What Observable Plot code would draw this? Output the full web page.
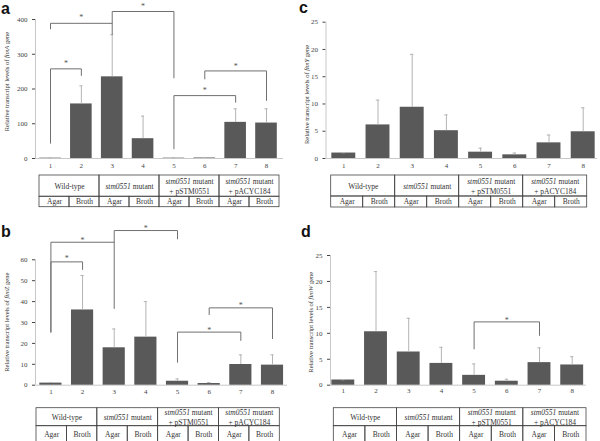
<!DOCTYPE html>
<html><head><meta charset="utf-8">
<script src="https://cdn.jsdelivr.net/npm/d3@7"></script>
<script src="https://cdn.jsdelivr.net/npm/@observablehq/plot@0.6"></script>
<style>
body{margin:0;background:#fff;}
#fig{position:relative;width:600px;height:441px;overflow:hidden;background:#fff;}
.pane{position:absolute;}
.letter{position:absolute;font-family:"Liberation Sans",Arial,sans-serif;font-weight:bold;font-size:16px;line-height:1;color:#111;}
</style></head><body><div id="fig"></div>
<script>
// ---- data ----
const conditions = ["1","2","3","4","5","6","7","8"];
const groups = ["Wild-type", "stm0551 mutant", "stm0551 mutant\n+ pSTM0551", "stm0551 mutant\n+ pACYC184"];
const media = ["Agar", "Broth"];

const fimA_mean = [1, 157, 235, 57, 1, 1.5, 104, 102];
const fimA_sd   = [0.5, 52, 121, 65, 0.5, 1.5, 39, 41];
const fimA_ticks = [0, 100, 200, 300, 400];
const fimA_brackets = [
  {from: 1, to: 2, top: 258, leftEnd: 44,  rightEnd: 239, star: 279},
  {from: 1, to: 3, top: 389, leftEnd: 373, rightEnd: 357, star: 411},
  {from: 3, to: 5, top: 423, leftEnd: 389, rightEnd: 232, star: 443},
  {from: 5, to: 7, top: 181, leftEnd: 28,  rightEnd: 162, star: 202},
  {from: 6, to: 8, top: 252, leftEnd: 229, rightEnd: 167, star: 272}
];

const fimZ_mean = [1.0, 36.0, 17.9, 23.0, 1.9, 0.8, 9.9, 9.6];
const fimZ_sd   = [0.3, 16.5, 9.0, 17.0, 1.1, 0.5, 4.6, 4.9];
const fimZ_ticks = [0, 10, 20, 30, 40, 50, 60];
const fimZ_brackets = [
  {from: 1, to: 2, top: 59.0, leftEnd: 25.4, rightEnd: 55.4, star: 61.6},
  {from: 1, to: 3, top: 68.4, leftEnd: 25.4, rightEnd: 36.7, star: 70.3},
  {from: 3, to: 5, top: 74.0, leftEnd: 68.4, rightEnd: 70.0, star: 75.9},
  {from: 5, to: 7, top: 25.4, leftEnd: 11.0, rightEnd: 21.4, star: 27.1},
  {from: 6, to: 8, top: 37.0, leftEnd: 33.8, rightEnd: 22.3, star: 39.0}
];

const fimY_mean = [1.0, 6.16, 9.4, 5.1, 1.16, 0.67, 2.87, 4.9];
const fimY_sd   = [0.05, 4.55, 9.7, 2.9, 0.74, 0.33, 1.43, 4.4];
const fimY_ticks = [0, 5, 10, 15, 20, 25];
const fimY_brackets = [];

const fimW_mean = [1.0, 10.3, 6.4, 4.2, 1.9, 0.77, 4.35, 3.9];
const fimW_sd   = [0.05, 11.6, 6.5, 3.1, 2.2, 0.38, 2.85, 1.6];
const fimW_ticks = [0, 5, 10, 15, 20, 25];
const fimW_brackets = [
  {from: 5, to: 7, top: 12.2, leftEnd: 7.0, rightEnd: 9.6, star: 12.8}
];

// ---- layout ----
const panels = [
  {letter: "a", gene: "fimA", mean: fimA_mean, sd: fimA_sd, ticks: fimA_ticks, brackets: fimA_brackets, yMax: 400,
   left: 0, top: 0, width: 300, height: 172, axisX: 35, c1: 50, c8: 266, baseEnd: 283, zeroY: 158, maxY: 19,
   labelX: 6, labelY: 81, xPad: 5, letterX: 1, letterY: 0.5,
   table: {x0: 39, x1: 279, y0: 175, y1: 206.7, split: 0.67, top: 168, h: 45}},
  {letter: "b", gene: "fimZ", mean: fimZ_mean, sd: fimZ_sd, ticks: fimZ_ticks, brackets: fimZ_brackets, yMax: 60,
   left: 0, top: 220, width: 300, height: 180, axisX: 35, c1: 50.4, c8: 272, baseEnd: 287, zeroY: 384.7, maxY: 259.3,
   labelX: 6.5, labelY: 321.7, xPad: 3.5, letterX: 1, letterY: 223.5,
   table: {x0: 36, x1: 279.3, y0: 407.7, y1: 443, split: 0.51, top: 400, h: 45}},
  {letter: "c", gene: "fimY", mean: fimY_mean, sd: fimY_sd, ticks: fimY_ticks, brackets: fimY_brackets, yMax: 25,
   left: 300, top: 0, width: 300, height: 172, axisX: 325.5, c1: 343.3, c8: 582.7, baseEnd: 597, zeroY: 158, maxY: 21.7,
   labelX: 306.5, labelY: 94, xPad: 5, letterX: 299, letterY: 0,
   table: {x0: 330.7, x1: 586.7, y0: 175, y1: 207, split: 0.656, top: 168, h: 45}},
  {letter: "d", gene: "fimW", mean: fimW_mean, sd: fimW_sd, ticks: fimW_ticks, brackets: fimW_brackets, yMax: 25,
   left: 300, top: 220, width: 300, height: 180, axisX: 330, c1: 342.8, c8: 571.7, baseEnd: 586, zeroY: 384.7, maxY: 255,
   labelX: 310, labelY: 321.7, xPad: 3, letterX: 301, letterY: 223.5,
   table: {x0: 333.3, x1: 586, y0: 407.7, y1: 443, split: 0.51, top: 400, h: 45}}
];

const SERIF = '"Liberation Serif","Times New Roman","DejaVu Serif",serif';
const fig = document.getElementById("fig");

function italicize(svg, words) {
  const re = new RegExp("(" + words.join("|") + ")");
  const walker = document.createTreeWalker(svg, NodeFilter.SHOW_TEXT);
  const nodes = [];
  while (walker.nextNode()) nodes.push(walker.currentNode);
  for (const n of nodes) {
    if (!re.test(n.nodeValue)) continue;
    const parts = n.nodeValue.split(re);
    const frag = document.createDocumentFragment();
    for (const part of parts) {
      if (!part) continue;
      if (words.includes(part)) {
        const t = document.createElementNS("http://www.w3.org/2000/svg", "tspan");
        t.setAttribute("font-style", "italic");
        t.textContent = part;
        frag.appendChild(t);
      } else frag.appendChild(document.createTextNode(part));
    }
    n.parentNode.replaceChild(frag, n);
  }
}

function place(node, left, top) {
  const d = document.createElement("div");
  d.className = "pane";
  d.style.left = left + "px";
  d.style.top = top + "px";
  d.appendChild(node);
  fig.appendChild(d);
}

const half = 0.35;
for (const p of panels) {
  const s = (p.c8 - p.c1) / 7;
  const x0 = 1 - (p.c1 - p.axisX) / s;
  const x1 = 8 + (p.baseEnd - p.c8) / s;
  const rows = conditions.map((c, i) => ({i: i + 1, label: c, mean: p.mean[i], sd: p.sd[i]}));
  const pts = p.brackets.flatMap((b, k) => [
    {k, x: b.from, y: b.leftEnd}, {k, x: b.from, y: b.top},
    {k, x: b.to, y: b.top}, {k, x: b.to, y: b.rightEnd}]);
  const ml = p.axisX - p.left, mr = p.left + p.width - p.baseEnd;
  const mt = p.maxY - p.top, mb = p.top + p.height - p.zeroY;
  const frameMid = p.top + (mt + p.height - mb) / 2;
  const chart = Plot.plot({
    width: p.width, height: p.height,
    marginLeft: ml, marginRight: mr, marginTop: mt, marginBottom: mb,
    style: {background: "none", overflow: "visible", fontFamily: SERIF, fontSize: "7px", color: "#444"},
    x: {domain: [x0, x1], ticks: d3.range(1, 9), tickFormat: i => conditions[i - 1], tickSize: 0, tickPadding: p.xPad, label: null},
    y: {domain: [0, p.yMax], ticks: p.ticks, tickSize: 3, tickPadding: 5, label: null},
    marks: [
      Plot.ruleX([x0], {y1: () => 0, y2: () => p.yMax, stroke: "#c8c8c8"}),
      Plot.ruleY([0], {stroke: "#c8c8c8"}),
      Plot.rect(rows, {x1: d => d.i - half, x2: d => d.i + half, y1: () => 0, y2: "mean", fill: "#595959"}),
      Plot.ruleX(rows, {x: "i", y1: "mean", y2: d => d.mean + d.sd, stroke: "#b4b4b4"}),
      Plot.ruleY(rows, {x1: d => d.i - 0.05, x2: d => d.i + 0.05, y: d => d.mean + d.sd, stroke: "#b4b4b4"}),
      Plot.line(pts, {x: "x", y: "y", z: "k", stroke: "#707070", strokeWidth: 1}),
      Plot.text(p.brackets, {x: b => (b.from + b.to) / 2, y: "star", text: () => "*", fontSize: 8, fill: "#555", dy: 2}),
      Plot.text([`Relative transcript levels of ${p.gene} gene`], {
        frameAnchor: "left", textAnchor: "middle", lineAnchor: "middle", rotate: -90,
        dx: p.labelX - p.axisX, dy: p.labelY - frameMid,
        fontSize: 6.5, fill: "#333"})
    ]
  });
  italicize(chart, [p.gene]);
  place(chart, p.left, p.top);

  const t = p.table;
  const tb = Plot.plot({
    width: p.width, height: t.h, margin: 0,
    style: {background: "none", overflow: "visible", fontFamily: SERIF, fontSize: "7.5px", color: "#333"},
    x: {domain: [0, 8], range: [t.x0 - p.left, t.x1 - p.left], axis: null},
    y: {domain: [0, 1], range: [t.y0 - t.top, t.y1 - t.top], axis: null},
    marks: [
      Plot.rect(groups, {x1: (d, i) => 2 * i, x2: (d, i) => 2 * i + 2, y1: () => 0, y2: () => t.split, fill: "none", stroke: "#444", strokeWidth: 0.8}),
      Plot.rect(d3.range(8), {x1: i => i, x2: i => i + 1, y1: () => t.split, y2: () => 1, fill: "none", stroke: "#444", strokeWidth: 0.8}),
      Plot.text(groups, {x: (d, i) => 2 * i + 1, y: () => t.split / 2, text: d => d, lineHeight: 1.35, fill: "#333"}),
      Plot.text(d3.range(8), {x: i => i + 0.5, y: () => (t.split + 1) / 2, text: i => media[i % 2], fill: "#333"})
    ]
  });
  italicize(tb, ["stm0551"]);
  place(tb, p.left, t.top);

  const L = document.createElement("div");
  L.className = "letter";
  L.style.left = p.letterX + "px";
  L.style.top = p.letterY + "px";
  L.textContent = p.letter;
  fig.appendChild(L);
}
</script></body></html>
